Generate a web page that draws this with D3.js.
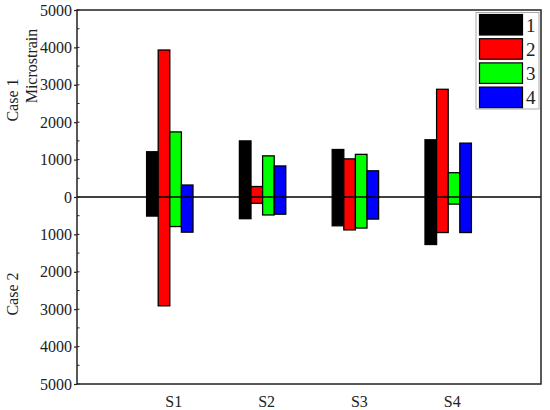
<!DOCTYPE html>
<html>
<head>
<meta charset="utf-8">
<script src="https://cdn.jsdelivr.net/npm/d3@7"></script>
<style>
  body { margin: 0; background: #fff; }
  svg { display: block; }
  text { font-family: "Liberation Serif", "Times New Roman", serif; fill: #222; }
</style>
</head>
<body>
<svg id="chart" width="550" height="410"></svg>
<script>
// ---- data ----
const categories = ["S1", "S2", "S3", "S4"];
const seriesNames = ["1", "2", "3", "4"];
const seriesColors = ["#000000", "#ff0000", "#00ff00", "#0000ff"];
// Case 1 (upward) microstrain per series across S1..S4
const case1_s1 = [1210, 1500, 1270, 1530];
const case1_s2 = [3930, 280, 1020, 2880];
const case1_s3 = [1740, 1100, 1140, 650];
const case1_s4 = [320, 830, 700, 1440];
// Case 2 (downward) microstrain per series across S1..S4
const case2_s1 = [510, 580, 770, 1270];
const case2_s2 = [2910, 170, 880, 950];
const case2_s3 = [790, 480, 830, 190];
const case2_s4 = [940, 460, 590, 950];
const yTicks = [-5000, -4000, -3000, -2000, -1000, 0, 1000, 2000, 3000, 4000, 5000];

const case1 = [case1_s1, case1_s2, case1_s3, case1_s4];
const case2 = [case2_s1, case2_s2, case2_s3, case2_s4];

// ---- layout ----
const svg = d3.select("#chart");
const L = 77, R = 541, T = 10, B = 384;

const x = d3.scaleLinear().domain([0, 5]).range([L, R]);
const y = d3.scaleLinear().domain([-5000, 5000]).range([B, T]);
const barW = 0.125; // in category units

// bars
const bars = [];
seriesNames.forEach((s, j) => {
  categories.forEach((c, i) => {
    bars.push({ s: j, cat: i, up: case1[j][i], down: case2[j][i] });
  });
});
svg.append("g").selectAll("rect").data(bars).join("rect")
  .attr("x", d => x(d.cat + 1 + (d.s - 2) * barW))
  .attr("width", d => x(d.cat + 1 + (d.s - 1) * barW) - x(d.cat + 1 + (d.s - 2) * barW))
  .attr("y", d => y(d.up))
  .attr("height", d => y(-d.down) - y(d.up))
  .attr("fill", d => seriesColors[d.s])
  .attr("stroke", "#000")
  .attr("stroke-width", 1.3);

// zero line
svg.append("line")
  .attr("x1", L).attr("x2", R).attr("y1", y(0)).attr("y2", y(0))
  .attr("stroke", "#000").attr("stroke-width", 1.3);

// frame
svg.append("rect")
  .attr("x", L).attr("y", T).attr("width", R - L).attr("height", B - T)
  .attr("fill", "none").attr("stroke", "#222").attr("stroke-width", 1.5);

// y axis
const yAxis = d3.axisLeft(y).tickValues(yTicks).tickSize(3).tickPadding(2)
  .tickFormat(d => String(Math.abs(d)));
const gy = svg.append("g").attr("transform", `translate(${L},0)`).call(yAxis);
gy.select(".domain").remove();
gy.selectAll(".tick line").attr("stroke", "#222").attr("stroke-width", 1.2);
gy.selectAll(".tick text").style("font-size", "16px").style("font-family", "Liberation Serif, serif").attr("fill", "#222");

// minor ticks (inside)
const minor = d3.range(-4500, 5000, 1000);
svg.append("g").selectAll("line").data(minor).join("line")
  .attr("x1", L).attr("x2", L + 2.5)
  .attr("y1", d => y(d)).attr("y2", d => y(d))
  .attr("stroke", "#222").attr("stroke-width", 1);
svg.append("g").selectAll("line").data(yTicks).join("line")
  .attr("x1", L).attr("x2", L + 2.5)
  .attr("y1", d => y(d)).attr("y2", d => y(d))
  .attr("stroke", "#222").attr("stroke-width", 1);

// x axis labels
const xAxis = d3.axisBottom(x).tickValues([1, 2, 3, 4]).tickSize(0).tickPadding(12)
  .tickFormat((d, i) => categories[i]);
const gx = svg.append("g").attr("transform", `translate(0,${B})`).call(xAxis);
gx.select(".domain").remove();
gx.selectAll(".tick text").style("font-size", "16px").style("font-family", "Liberation Serif, serif")
  .attr("fill", "#222").attr("dx", 3.5);

// axis titles
svg.append("text").attr("transform", "translate(18,100) rotate(-90)")
  .attr("text-anchor", "middle").style("font-size", "16px").text("Case 1");
svg.append("text").attr("transform", "translate(37,66) rotate(-90)")
  .attr("text-anchor", "middle").style("font-size", "16px").text("Microstrain");
svg.append("text").attr("transform", "translate(18,294) rotate(-90)")
  .attr("text-anchor", "middle").style("font-size", "16px").text("Case 2");

// legend
const lg = svg.append("g");
lg.append("rect").attr("x", 476).attr("y", 12.5).attr("width", 63).attr("height", 96.5)
  .attr("fill", "#fff").attr("stroke", "#aaa").attr("stroke-width", 1);
seriesNames.forEach((s, j) => {
  lg.append("rect").attr("x", 479.5).attr("y", 14.5 + j * 24.2).attr("width", 43).attr("height", 20.5)
    .attr("fill", seriesColors[j]).attr("stroke", "#000").attr("stroke-width", 1.2);
  lg.append("text").attr("x", 526).attr("y", 31.5 + j * 24.2)
    .style("font-size", "19px").text(s);
});
</script>
</body>
</html>
